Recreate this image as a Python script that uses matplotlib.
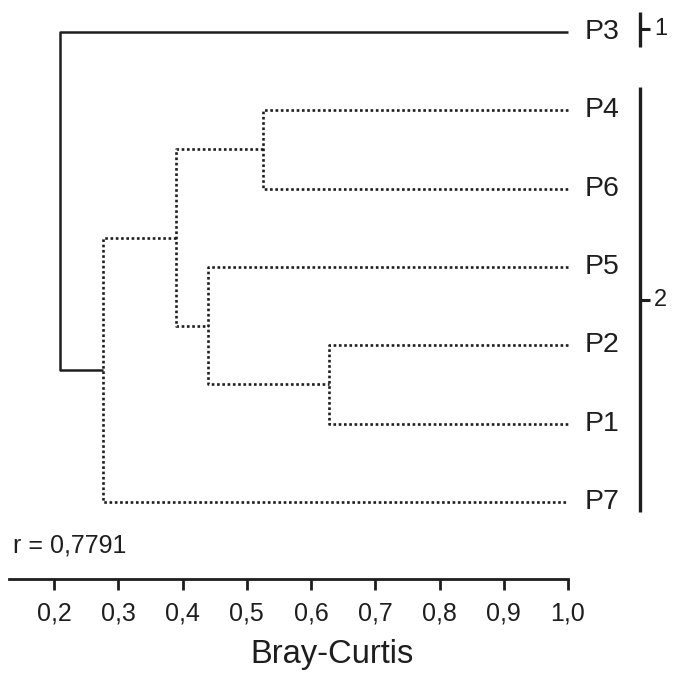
import matplotlib
matplotlib.use("Agg")
import matplotlib.pyplot as plt
from matplotlib.ticker import FuncFormatter

plt.rcParams['font.family'] = ['Liberation Sans', 'DejaVu Sans']

# --- data ---
leaves = ["P3", "P4", "P6", "P5", "P2", "P1", "P7"]   # top to bottom
# merges: (child a, child b, Bray-Curtis similarity); merge k makes node "m{k}"
merge_a = ["P4", "P2", "P5", "m0", "m3", "P3"]
merge_b = ["P6", "P1", "m1", "m2", "P7", "m4"]
merge_h = [0.526, 0.628, 0.44, 0.39, 0.277, 0.209]

x_ticks = [0.2, 0.3, 0.4, 0.5, 0.6, 0.7, 0.8, 0.9, 1.0]
leaf_x = 1.0
axis_start = 0.13
r_text = "r = 0,7791"
groups = ["1", "2"]
group_leaves = [["P3"], ["P4", "P6", "P5", "P2", "P1", "P7"]]

col = '#1e1e1e'

fig = plt.figure(figsize=(6.75, 6.74), dpi=100)
ax = fig.add_axes([0, 95 / 674, 1, 579 / 674])

# walk the merges, node y = middle of its two children
pos = {name: (leaf_x, i) for i, name in enumerate(leaves)}
for k, (a, b, h) in enumerate(zip(merge_a, merge_b, merge_h)):
    xa, ya = pos[a]
    xb, yb = pos[b]
    if k == len(merge_h) - 1:
        kw = dict(color=col, lw=1.8, solid_capstyle='butt')
    else:
        kw = dict(color=col, lw=1.9, linestyle=(0, (1, 1)), dash_capstyle='butt')
    ax.plot([xa, h, h, xb], [ya, ya, yb, yb], **kw)
    pos["m%d" % k] = (h, (ya + yb) / 2)

for i, name in enumerate(leaves):
    ax.text(leaf_x + 0.026, i, name, fontsize=20.5, va='center', ha='left', color=col)

# group bars on the right
bar_x = 1.112
for g, members in zip(groups, group_leaves):
    ys = [leaves.index(m) for m in members]
    top = min(ys) - (0.255 if len(ys) == 1 else 0.3)
    bot = max(ys) + (0.19 if len(ys) == 1 else 0.13)
    mid = (top + bot) / 2
    ax.plot([bar_x, bar_x], [top, bot], color=col, lw=2.4, solid_capstyle='butt')
    ax.plot([bar_x, bar_x + 0.016], [mid, mid], color=col, lw=2.2, solid_capstyle='butt')
    ax.text(bar_x + 0.022, mid, g, fontsize=17, va='center', ha='left', color=col)

ax.text(0.136, 6.55, r_text, fontsize=18, va='center', ha='left', color=col)

ax.set_xlim(0.2 - 54 / 642.5, 0.2 + 621 / 642.5)
ax.set_ylim(6.983, -0.4085)
for s in ['top', 'right', 'left']:
    ax.spines[s].set_visible(False)
ax.spines['bottom'].set_bounds(axis_start, x_ticks[-1])
ax.spines['bottom'].set_linewidth(2)
ax.spines['bottom'].set_color(col)
ax.set_yticks([])
ax.set_xticks(x_ticks)
ax.xaxis.set_major_formatter(FuncFormatter(lambda v, p: ("%.1f" % v).replace('.', ',')))
ax.tick_params(axis='x', direction='out', length=8, width=2, color=col,
               labelsize=18, labelcolor=col, pad=8)
ax.set_xlabel("Bray-Curtis", fontsize=23.5, color=col)
ax.xaxis.set_label_coords(332 / 675, -60 / 579)

fig.savefig("out.png", dpi=100)
